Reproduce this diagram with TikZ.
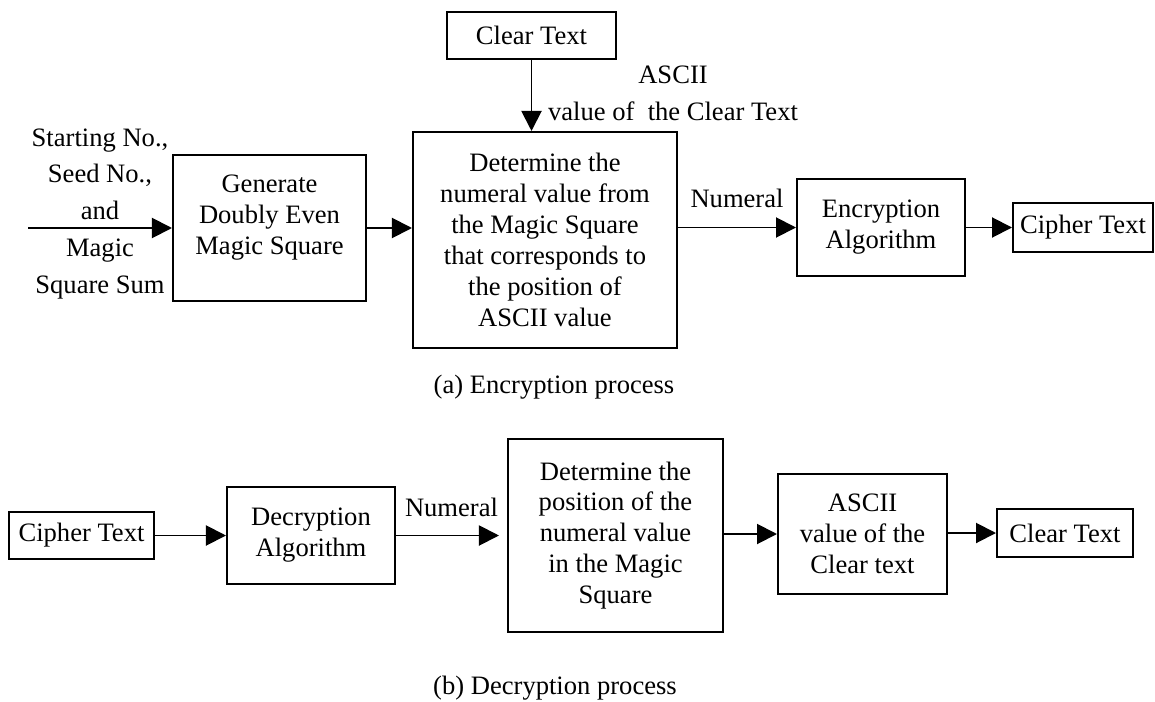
\documentclass[tikz,border=0pt]{standalone}
\usepackage{fontspec}
\setmainfont{Liberation Serif}
\usetikzlibrary{positioning}
\usetikzlibrary{calc}
\usetikzlibrary{arrows.meta}

\begin{document}
\begin{tikzpicture}[-> , >={Triangle[length=0.5cm,width=0.5cm]}, line width=1.4pt,
    x=0.025cm, y=-0.025cm, font=\fontsize{18.9}{22}\selectfont,
    block/.style={draw, rectangle, align=center, inner sep=0pt},
    wide/.style={align=center, font=\fontsize{18.9}{26.3}\selectfont}]
        \useasboundingbox (0,0) rectangle (1155,702);

        % (a) encryption
        \node [block, minimum width=4.225cm, minimum height=1.175cm] (clear) at (531.5,35.5) {Clear Text};
        \node [block, minimum width=4.825cm, minimum height=3.65cm] (gen) at (269.5,228) {Generate\\Doubly Even\\Magic Square\\[-3pt]\mbox{}};
        \node [block, minimum width=6.6cm, minimum height=5.4cm] (det) at (545,240) {Determine the\\numeral value from\\the Magic Square\\that corresponds to\\the position of\\ASCII value};
        \node [block, minimum width=4.2cm, minimum height=2.425cm] (enc) at (881,227.5) {Encryption\\Algorithm};
        \node [block, minimum width=3.5cm, minimum height=1.225cm] (cipher) at (1083,227.5) {Cipher Text};

        \node [wide] (keys) at (100,214) {Starting No.,\\Seed No.,\\and\\Magic\\Square Sum};
        \node [wide] (ascii) at (673,93) {ASCII\\value of~ the Clear Text};
        \coordinate (src) at (28,228);

        \path (src) edge (gen);
        \path (gen) edge (gen.east -| det.west);
        \path (clear) edge (clear |- det.north);
        \path (det.east |- enc) edge (enc);
        \path (enc) edge (cipher);

        \node [above=0.35cm of $(det.east |- enc)!0.5!(enc.west)$] (num) {Numeral};
        \node (capa) at (554,387) {(a) Encryption process};

        % (b) decryption
        \node [block, minimum width=3.625cm, minimum height=1.175cm] (cipherb) at (81.5,535.5) {Cipher Text};
        \node [block, minimum width=4.2cm, minimum height=2.425cm] (dec) at (311,535.5) {Decryption\\Algorithm};
        \node [block, minimum width=5.375cm, minimum height=4.825cm] (detb) at (615.5,535.5) {Determine the\\position of the\\numeral value\\in the Magic\\Square};
        \node [block, minimum width=4.225cm, minimum height=3cm] (asciib) at (862.5,534) {ASCII\\value of the\\Clear text};
        \node [block, minimum width=3.4cm, minimum height=1.2cm] (clearb) at (1065,533) {Clear Text};

        \path (cipherb) edge (dec);
        \path (dec) edge[shorten >=0.2cm] (detb);
        \path (detb.east |- asciib) edge (asciib);
        \path (asciib.east |- clearb) edge (clearb);

        \node [above=0.33cm of $(dec.east)!0.5!(detb.west)$] (numb) {Numeral};
        \node (capb) at (555,688) {(b) Decryption process};
    \end{tikzpicture}
\end{document}
